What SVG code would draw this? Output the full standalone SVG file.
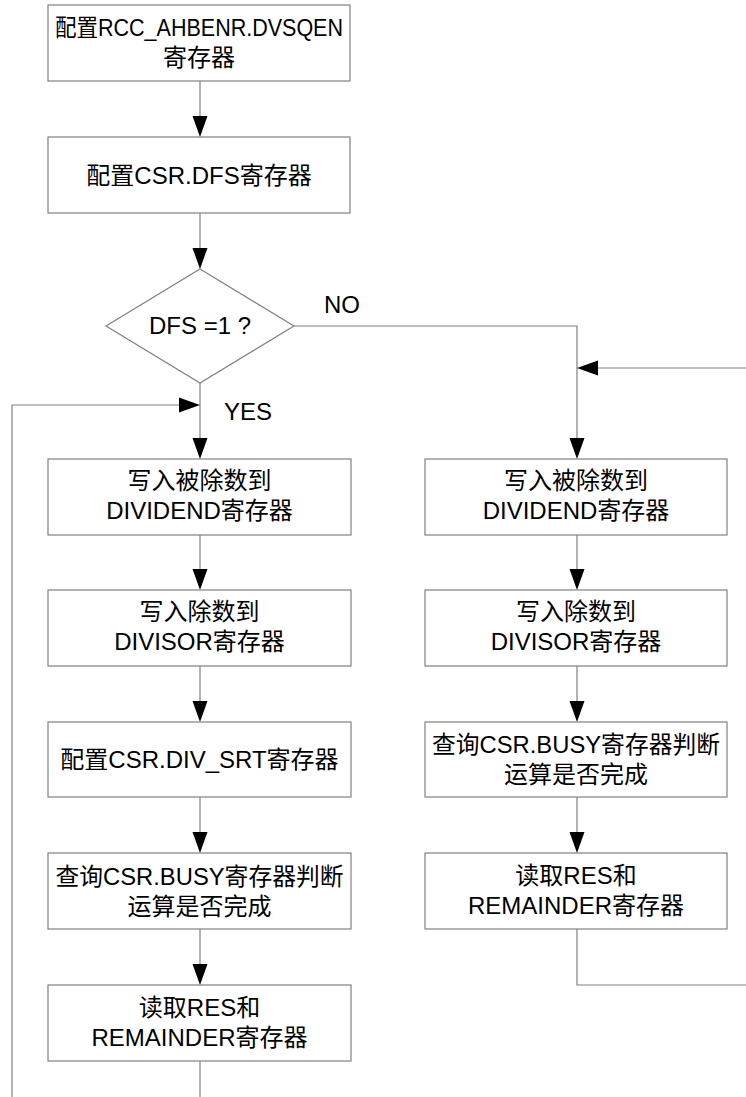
<svg xmlns="http://www.w3.org/2000/svg" width="746" height="1097" viewBox="0 0 746 1097">
<defs>
<style>
.box{fill:#fff;stroke:#808080;stroke-width:1.2}
.ln{fill:none;stroke:#808080;stroke-width:1.2}
.ah{fill:#000}
text{font-family:"Liberation Sans","Noto Sans CJK SC",sans-serif;font-size:24px;fill:#000;text-anchor:middle}
</style>
</defs>
<rect width="746" height="1097" fill="#fff"/>
<g id="connectors">
<path class="ln" d="M200 81V116"/><path class="ah" d="M192.5 116H207.5L200 137Z"/>
<path class="ln" d="M200 213V248"/><path class="ah" d="M192.5 248H207.5L200 269Z"/>
<path class="ln" d="M200 383V438"/><path class="ah" d="M192.5 438H207.5L200 459Z"/>
<path class="ln" d="M12 1097V405H179"/><path class="ah" d="M179 397.5V412.5L200 405Z"/>
<path class="ln" d="M200 535V569"/><path class="ah" d="M192.5 569H207.5L200 590Z"/>
<path class="ln" d="M200 666V701"/><path class="ah" d="M192.5 701H207.5L200 722Z"/>
<path class="ln" d="M200 797V832"/><path class="ah" d="M192.5 832H207.5L200 853Z"/>
<path class="ln" d="M200 929V964"/><path class="ah" d="M192.5 964H207.5L200 985Z"/>
<path class="ln" d="M200 1061V1097"/>
<path class="ln" d="M294 326H577V438"/><path class="ah" d="M569.5 438H584.5L577 459Z"/>
<path class="ln" d="M746 368H598"/><path class="ah" d="M598 360.5V375.5L577 368Z"/>
<path class="ln" d="M577 535V569"/><path class="ah" d="M569.5 569H584.5L577 590Z"/>
<path class="ln" d="M577 666V701"/><path class="ah" d="M569.5 701H584.5L577 722Z"/>
<path class="ln" d="M577 797V832"/><path class="ah" d="M569.5 832H584.5L577 853Z"/>
<path class="ln" d="M577 929V985H746"/>
</g>
<g id="n1"><rect class="box" x="48" y="5" width="302" height="76"/><text x="199" y="36" textLength="288" lengthAdjust="spacingAndGlyphs">配置RCC_AHBENR.DVSQEN</text><text x="199" y="66">寄存器</text></g>
<g id="n2"><rect class="box" x="48" y="137" width="302" height="76"/><text x="199" y="184">配置CSR.DFS寄存器</text></g>
<g id="d1"><path class="box" d="M200 269L294 326L200 383L106 326Z"/><text x="200" y="334">DFS =1 ?</text></g>
<g id="lbl-no"><text x="342" y="313">NO</text></g>
<g id="lbl-yes"><text x="248" y="420">YES</text></g>
<g id="l1"><rect class="box" x="48" y="459" width="303" height="76"/><text x="199.5" y="489">写入被除数到</text><text x="199.5" y="519">DIVIDEND寄存器</text></g>
<g id="l2"><rect class="box" x="48" y="590" width="303" height="76"/><text x="199.5" y="620">写入除数到</text><text x="199.5" y="650">DIVISOR寄存器</text></g>
<g id="l3"><rect class="box" x="48" y="722" width="303" height="75"/><text x="199.5" y="768">配置CSR.DIV_SRT寄存器</text></g>
<g id="l4"><rect class="box" x="48" y="853" width="303" height="76"/><text x="199.5" y="885" textLength="288" lengthAdjust="spacingAndGlyphs">查询CSR.BUSY寄存器判断</text><text x="199.5" y="915">运算是否完成</text></g>
<g id="l5"><rect class="box" x="48" y="985" width="303" height="76"/><text x="199.5" y="1016">读取RES和</text><text x="199.5" y="1046">REMAINDER寄存器</text></g>
<g id="r1"><rect class="box" x="425" y="459" width="302" height="76"/><text x="576" y="489">写入被除数到</text><text x="576" y="519">DIVIDEND寄存器</text></g>
<g id="r2"><rect class="box" x="425" y="590" width="302" height="76"/><text x="576" y="620">写入除数到</text><text x="576" y="650">DIVISOR寄存器</text></g>
<g id="r3"><rect class="box" x="425" y="722" width="302" height="75"/><text x="576" y="753" textLength="288" lengthAdjust="spacingAndGlyphs">查询CSR.BUSY寄存器判断</text><text x="576" y="783">运算是否完成</text></g>
<g id="r4"><rect class="box" x="425" y="853" width="302" height="76"/><text x="576" y="884">读取RES和</text><text x="576" y="914">REMAINDER寄存器</text></g>
</svg>
